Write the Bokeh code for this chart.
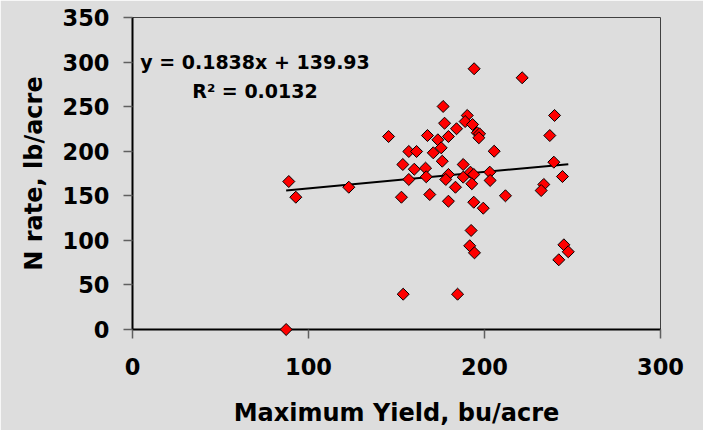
import math
from bokeh.plotting import figure
from bokeh.models import Range1d, FixedTicker, Label, ColumnDataSource
from bokeh.embed import file_html
from bokeh.resources import INLINE

# Data
max_yield = [87.3, 88.8, 92.8, 122.9,
             194.1, 221.4, 176.5, 239.8, 190.2, 177.3, 189.0, 193.2, 184.1, 145.5,
             167.6, 195.9, 197.2, 196.8, 237.1, 173.5, 179.5, 175.4, 157.0, 161.4,
             170.9, 205.5, 176.0, 153.6, 187.9, 239.4, 160.1, 166.5, 166.9, 157.0,
             179.5, 178.0, 187.9, 192.0, 193.9, 203.0, 203.2, 244.3, 192.8, 183.5,
             233.7, 232.2, 152.8, 168.9, 211.9, 179.5, 193.9, 199.3,
             192.4, 191.6, 194.3, 245.1, 247.6, 242.2, 153.8, 184.7]
n_rate = [0.0, 166.0, 148.4, 159.6,
          292.5, 282.4, 250.2, 240.1, 240.1, 231.4, 233.3, 230.0, 225.2, 216.5,
          217.6, 220.7, 219.5, 215.1, 217.6, 212.8, 216.5, 203.8, 199.7, 199.7,
          198.2, 200.0, 188.8, 185.1, 185.1, 187.7, 179.8, 181.0, 171.3, 168.3,
          173.9, 168.3, 170.9, 176.5, 173.9, 176.5, 167.2, 171.6, 163.5, 159.6,
          162.7, 155.9, 148.4, 151.4, 150.0, 143.9, 142.8, 136.1,
          111.1, 93.9, 86.0, 95.0, 87.2, 78.2, 39.6, 39.6]

slope = 0.1838
intercept = 139.93
r_squared = 0.0132

x_ticks = [0, 100, 200, 300]
y_ticks = [0, 50, 100, 150, 200, 250, 300, 350]

BG = "#DDDDDD"
FONT = "DejaVu Sans"

p = figure(width=703, height=430, output_backend="svg", toolbar_location=None,
           x_range=Range1d(0, 300), y_range=Range1d(0, 350),
           min_border_left=132, min_border_right=43, min_border_top=17,
           min_border_bottom=101)
p.background_fill_color = BG
p.border_fill_color = BG
p.outline_line_color = "#404040"
p.outline_line_width = 1
p.xgrid.visible = False
p.ygrid.visible = False

for ax, ticks in ((p.xaxis[0], x_ticks), (p.yaxis[0], y_ticks)):
    ax.ticker = FixedTicker(ticks=ticks)
    ax.axis_line_color = "black"
    ax.axis_line_width = 2
    ax.major_tick_line_color = "#606060"
    ax.major_tick_line_width = 1.5
    ax.major_tick_out = 9
    ax.major_tick_in = 0
    ax.minor_tick_line_color = None
    ax.major_label_text_font = FONT
    ax.major_label_text_font_style = "bold"
    ax.major_label_text_font_size = "22.5px"
    ax.major_label_text_color = "black"
    ax.axis_label_text_font = FONT
    ax.axis_label_text_font_style = "bold"
    ax.axis_label_text_font_size = "24px"
    ax.axis_label_text_color = "black"

p.xaxis.axis_label = "Maximum Yield, bu/acre"
p.yaxis.axis_label = "N rate, lb/acre"
p.xaxis.major_label_standoff = 19
p.yaxis.major_label_standoff = 14
p.xaxis.axis_label_standoff = 21
p.yaxis.axis_label_standoff = 12

# trend line over the data range
x0, x1 = min(max_yield), max(max_yield)
p.line([x0, x1], [slope * x0 + intercept, slope * x1 + intercept],
       line_color="black", line_width=2)

src = ColumnDataSource(dict(x=max_yield, y=n_rate))
r = p.scatter("x", "y", source=src, marker="square", angle=math.pi / 4,
              size=8.5, fill_color="#FF0000", line_color="black", line_width=1)
r.level = "overlay"

eq1 = Label(x=69.6, y=300.5, text=f"y = {slope}x + {intercept}",
            text_font=FONT, text_font_style="bold", text_font_size="19px",
            text_align="center", text_baseline="alphabetic", text_color="black")
eq2 = Label(x=69.6, y=267, text=f"R\u00b2 = {r_squared}",
            text_font=FONT, text_font_style="bold", text_font_size="19px",
            text_align="center", text_baseline="alphabetic", text_color="black")
p.add_layout(eq1)
p.add_layout(eq2)

open("out.html", "w").write(file_html(p, INLINE))
